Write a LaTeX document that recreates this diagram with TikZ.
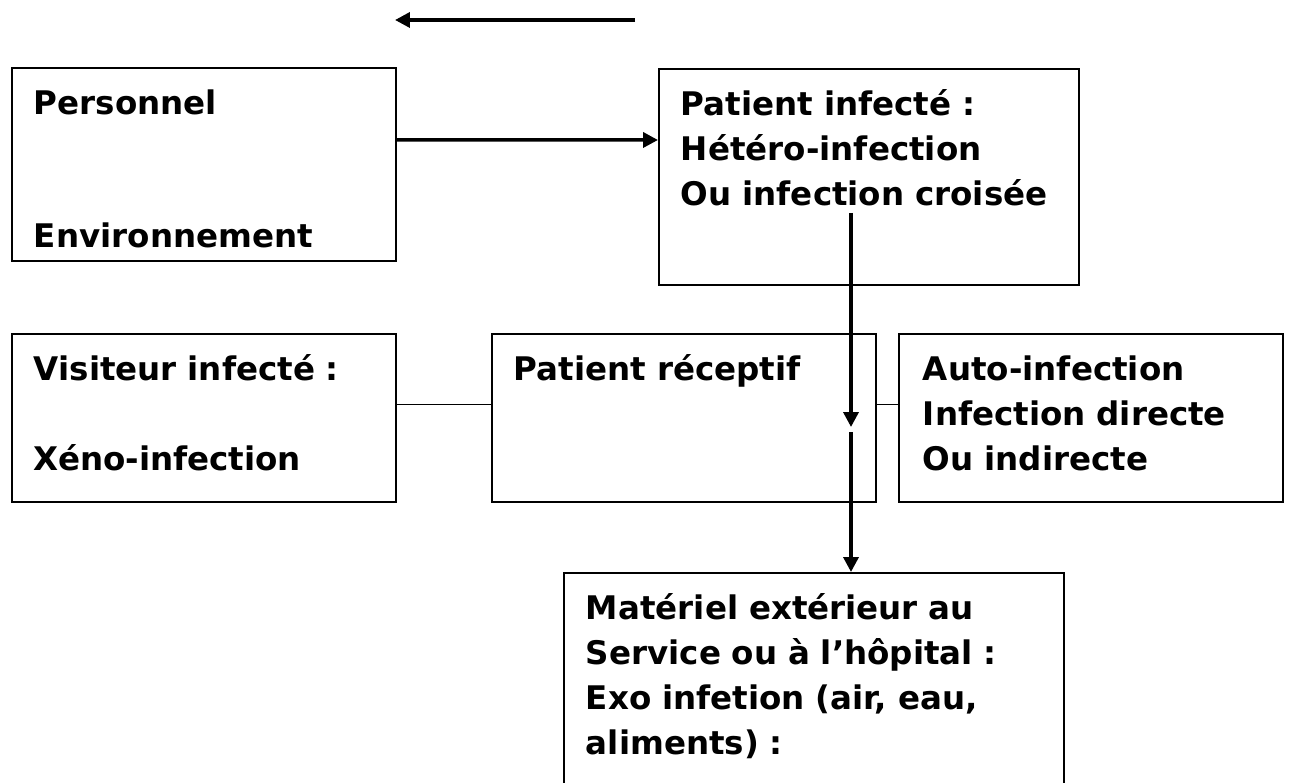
\documentclass[tikz,border=0pt]{standalone}
\usepackage{fontspec}
\setmainfont{DejaVu Sans}
\usetikzlibrary{positioning,arrows.meta}

\begin{document}
\begin{tikzpicture}[
        x=0.02cm, y=-0.02cm,
        box/.style={
            draw=black,
            line width=1.1pt,
            rectangle,
            anchor=north west,
            inner xsep=0.44cm,
            inner ysep=0pt,
            align=left,
            text height=0.94cm,
            font=\bfseries\fontsize{18.5}{25.5}\selectfont
        },
        link/.style={
            draw=black,
            line width=0.6pt
        },
        arrow/.style={
            draw=black,
            line width=2pt,
            -{Triangle[length=8.5pt,width=8.5pt]}
        }
    ]
        \useasboundingbox (0,0) rectangle (1290,783);
        \node[box, minimum width=7.68cm, text width=6.80cm, text depth=2.92cm] (pers) at (11,67)
            {Personnel\\[1.76cm]Environnement};
        \node[box, minimum width=8.40cm, text width=7.52cm, text depth=3.38cm] (pinf) at (658,68)
            {Patient infecté :\\Hétéro-infection\\Ou infection croisée};
        \node[box, minimum width=7.68cm, text width=6.80cm, text depth=2.42cm] (vis) at (11,333)
            {Visiteur infecté :\\[0.9cm]Xéno-infection};
        \node[box, minimum width=7.68cm, text width=6.80cm, text depth=2.42cm] (rec) at (491,333)
            {Patient réceptif};
        \node[box, minimum width=7.68cm, text width=6.72cm, text depth=2.42cm] (auto) at (898,333)
            {Auto-infection\\Infection directe\\Ou indirecte};
        \node[box, minimum width=10.0cm, text width=9.12cm, text depth=3.64cm] (mat) at (563,572)
            {Matériel extérieur au\\Service ou à l’hôpital :\\Exo infetion (air, eau,\\aliments) :};

        % free ends
        \coordinate (topR) at (635,20);
        \coordinate (topL) at (395,20);
        \coordinate (src) at (851,213);
        \coordinate (mid) at (851,427);
        \coordinate (midb) at (851,432);

        \draw[arrow] (topR) -- (topL);
        \draw[arrow] ([yshift=-1.46cm]pers.north east) -- ([yshift=-1.44cm]pinf.north west);
        \draw[link] ([yshift=0.26cm]vis.east) -- ([yshift=0.26cm]rec.west);
        \draw[link] ([yshift=0.26cm]rec.east) -- ([yshift=0.26cm]auto.west);
        \draw[arrow] (src) -- (mid);
        \draw[arrow] (midb) -- (midb |- mat.north);
    \end{tikzpicture}
\end{document}
